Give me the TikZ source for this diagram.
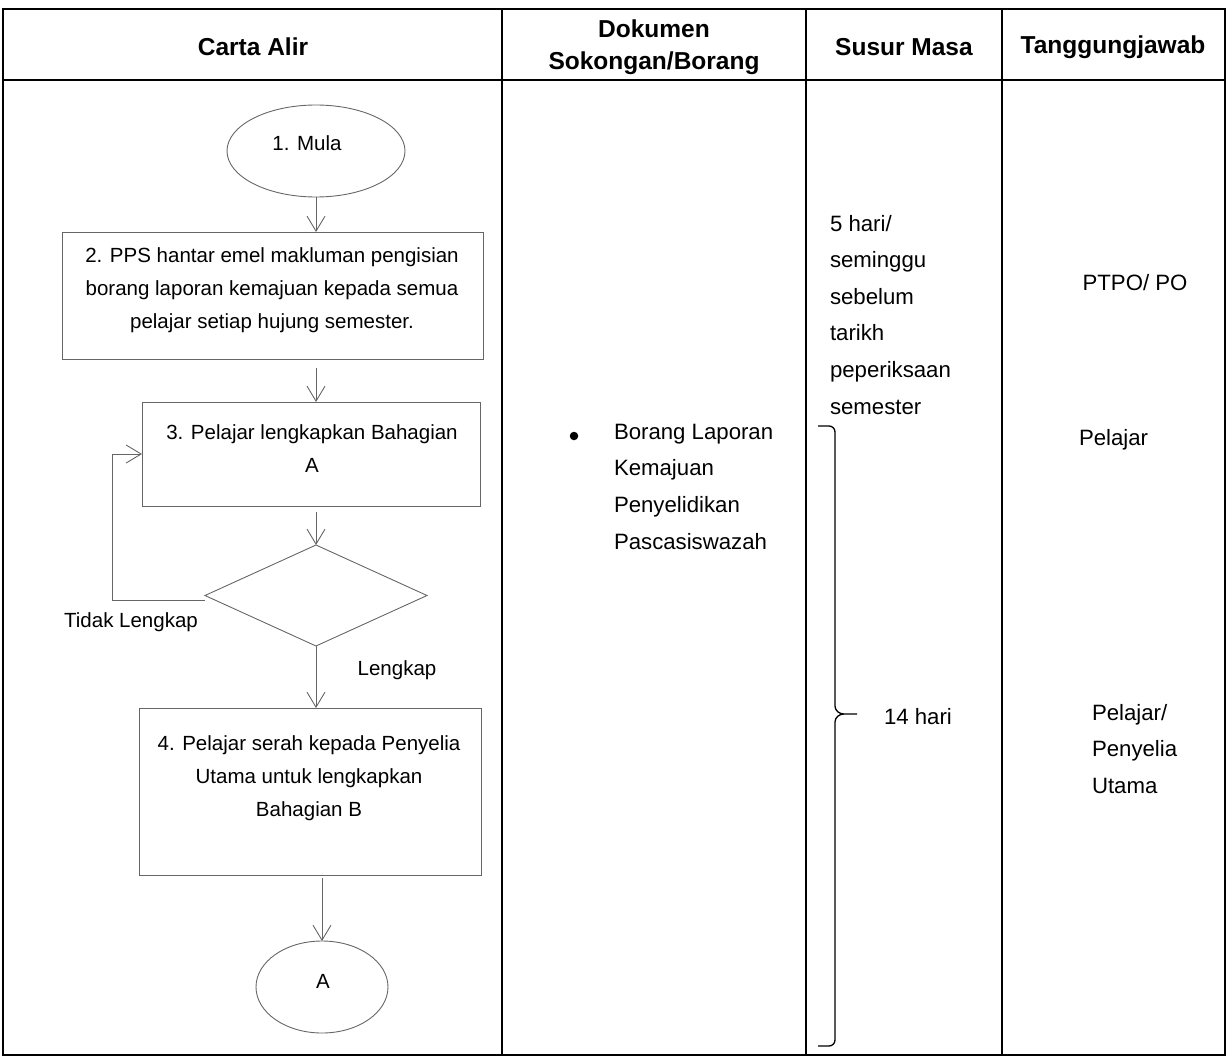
\documentclass[tikz,border=0pt]{standalone}
\usepackage{fontspec}
\setmainfont{Liberation Sans}
\usetikzlibrary{shapes.geometric,arrows.meta}
\begin{document}
\begin{tikzpicture}[x=1pt,y=-1pt,
  every node/.style={inner sep=0pt, outer sep=0pt},
  body/.style={font=\fontsize{20.5}{33}\selectfont},
  flowline/.style={draw=black!60, line width=0.9pt},
  procbox/.style={flowline, rectangle},
  boxtxt/.style={body, align=center},
  coltxt/.style={font=\fontsize{22.2}{36.6}\selectfont, align=left},
  conn/.style={draw=black!60, line width=0.9pt, -{Straight Barb[length=15pt,width=18pt]}},
  gridline/.style={line width=1.6pt, black},
  hdr/.style={font=\fontsize{24.5}{32}\selectfont\bfseries, align=center}
]
\useasboundingbox (0,0) rectangle (1227,1057);

% table grid
\draw[gridline] (3,9) rectangle (1225,1055);
\draw[gridline] (3,80) -- (1225,80);
\draw[gridline] (502,9) -- (502,1055);
\draw[gridline] (806,9) -- (806,1055);
\draw[gridline] (1002,9) -- (1002,1055);

% headers
\node[hdr] (h1) at (253,47) {Carta Alir};
\node[hdr] (h2) at (654,47) {Dokumen\\Sokongan/Borang};
\node[hdr] (h3) at (904,47) {Susur Masa};
\node[hdr] (h4) at (1113,47) {Tanggungjawab};

% flowchart shapes
\node[flowline, ellipse, minimum width=178, minimum height=92] (e1) at (316,151) {};
\node[body] (e1t) at (307,143) {1. Mula};

\node[procbox, minimum width=421, minimum height=127] (b2) at (272.5,295.5) {};
\node[boxtxt] (b2t) at (272,290) {2. PPS hantar emel makluman pengisian\\borang laporan kemajuan kepada semua\\pelajar setiap hujung semester.};

\node[procbox, minimum width=338, minimum height=104] (b3) at (311,454) {};
\node[boxtxt] (b3t) at (312,449) {3. Pelajar lengkapkan Bahagian\\A};

\node[flowline, diamond, aspect=2.2, minimum width=222, minimum height=101] (dia) at (316,595.5) {};

\node[procbox, minimum width=342, minimum height=167] (b4) at (310,791.5) {};
\node[boxtxt] (b4t) at (309,778.5) {4. Pelajar serah kepada Penyelia\\Utama untuk lengkapkan\\Bahagian B};

\node[flowline, ellipse, minimum width=132, minimum height=92] (eA) at (322,987) {};
\node[body] (eAt) at (323,981) {A};

% connectors
\draw[conn] (e1.south) -- (e1.south |- b2.north);
\draw[conn] ([yshift=-9pt]b2.south -| dia.north) -- (dia.north |- b3.north);
\draw[conn] ([yshift=-6pt]b3.south -| dia.north) -- (dia.north);
\draw[conn] (dia.south) -- (dia.south |- b4.north);
\draw[conn] ([yshift=-3pt]b4.south -| eA.north) -- (eA.north);
\draw[conn] ([yshift=-5pt]dia.west) -| ([xshift=-30pt]b3.west) -- (b3.west);

\node[body] (tl) at (131,622) {Tidak Lengkap};
\node[body] (lk) at (397,670) {Lengkap};

% column 2
\node[circle, fill=black, minimum size=8.5pt] (bul) at (574,436) {};
\node[coltxt, anchor=north west] (doc) at (614,424) {Borang Laporan\\Kemajuan\\Penyelidikan\\Pascasiswazah};

% column 3
\node[coltxt, anchor=north west] (t1) at (830,215) {5 hari/\\seminggu\\sebelum\\tarikh\\peperiksaan\\semester};
\coordinate (brt) at (818,426);
\coordinate (brb) at (818,1046);
\draw[line width=1.3pt] (brt) -- (829,426) to[out=0,in=90] (835,432) -- (835,706) to[out=-90,in=180] (844,714) -- (857,714)
  (844,714) to[out=180,in=90] (835,722) -- (835,1040) to[out=-90,in=0] (829,1046) -- (brb);
\node[coltxt, anchor=west] (t2) at (884,717) {14 hari};

% column 4
\node[coltxt] (r1) at (1135,283) {PTPO/ PO};
\node[coltxt, anchor=base west] (r2) at (1079,445) {Pelajar};
\node[coltxt, anchor=north west] (r3) at (1092,704) {Pelajar/\\Penyelia\\Utama};
\end{tikzpicture}
\end{document}
